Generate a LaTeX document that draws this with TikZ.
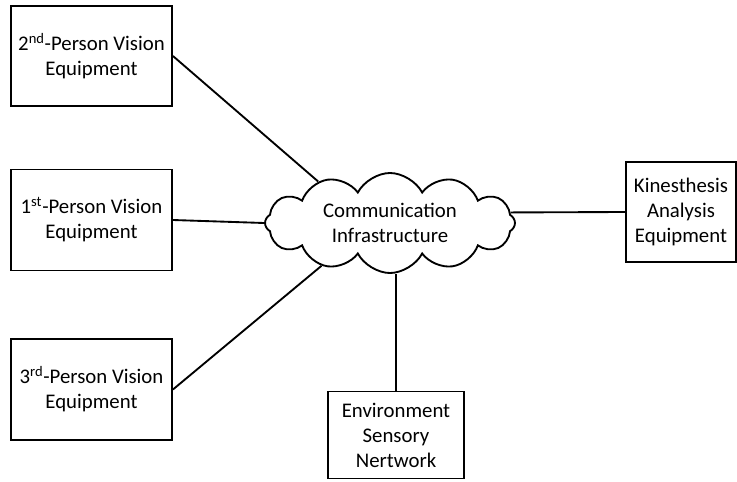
\documentclass[tikz,border=0pt]{standalone}
\usepackage{fontspec}
\setmainfont{Carlito}
\usetikzlibrary{shapes.symbols}
\begin{document}
\begin{tikzpicture}[x=0.75pt,y=-0.75pt,
  every node/.style={font=\fontsize{15.6}{18.8}\selectfont, align=center},
  box/.style={draw, line width=1.4pt, inner sep=0pt},
  conn/.style={line width=1.4pt}]
\useasboundingbox (0,0) rectangle (737,481);
\node[box, minimum width=161*0.75pt, minimum height=100*0.75pt] (b2) at (91.5,56) {2\textsuperscript{nd}-Person Vision\\Equipment};
\node[box, minimum width=161*0.75pt, minimum height=101*0.75pt] (b1) at (91.5,220) {1\textsuperscript{st}-Person Vision\\Equipment};
\node[box, minimum width=161*0.75pt, minimum height=101*0.75pt] (b3) at (91.5,389.5) {3\textsuperscript{rd}-Person Vision\\Equipment};
\node[box, minimum width=110*0.75pt, minimum height=100*0.75pt] (kin) at (681,212) {Kinesthesis\\Analysis\\Equipment};
\node[box, minimum width=136*0.75pt, minimum height=87*0.75pt] (env) at (396,435) {Environment\\Sensory\\Nertwork};
\node[cloud, draw, line width=1.4pt, cloud puffs=12, cloud puff arc=125, aspect=2.6, minimum width=250*0.75pt, minimum height=97*0.75pt, inner sep=0pt] (cl) at (390,223) {Communication\\Infrastructure};
\draw[conn] (b2.east) -- (cl.150);
\draw[conn] (b1.east) -- (cl.west);
\draw[conn] (b3.east) -- (cl.212);
\draw[conn] (kin.west) -- (cl.5);
\draw[conn] (env.north) -- (env.north |- cl.south);
\end{tikzpicture}
\end{document}
